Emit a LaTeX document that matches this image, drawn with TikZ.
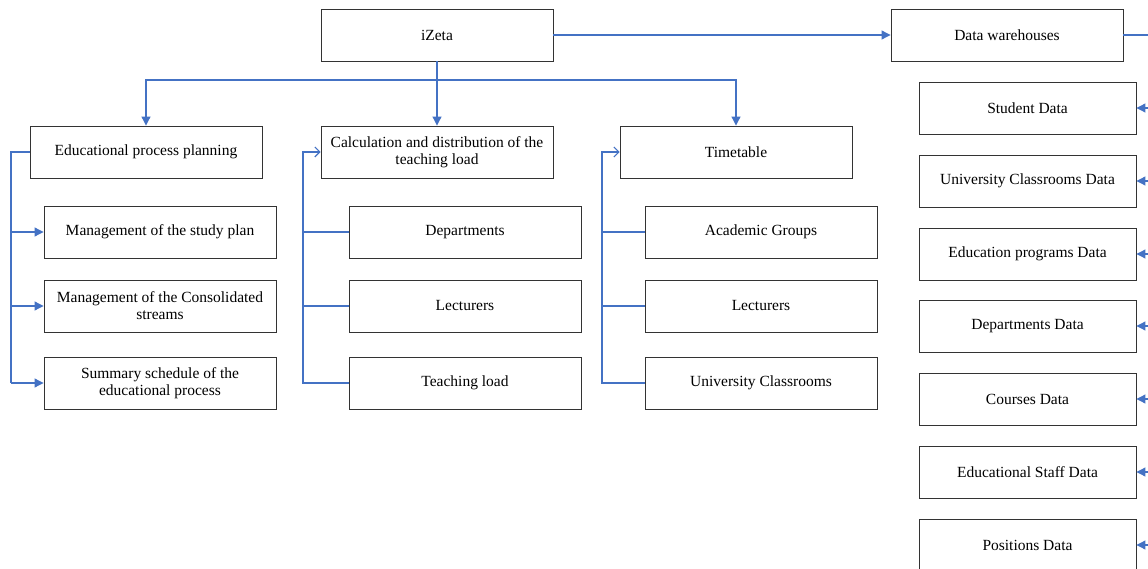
\documentclass[tikz,border=0pt]{standalone}
\usepackage{fontspec}
\setmainfont{Liberation Serif}
\usetikzlibrary{arrows.meta}
\definecolor{myblue}{HTML}{4472C4}
\begin{document}
\begin{tikzpicture}[x=1pt,y=-1pt,
 box/.style={draw=black!80, line width=0.9pt, rectangle, minimum width=232pt, minimum height=52pt, inner sep=0pt, align=center, font=\fontsize{15.5}{17}\selectfont},
 dbox/.style={box, minimum width=217pt},
 conn/.style={draw=myblue, line width=1.1pt},
 farr/.style={conn, -{Triangle[length=9pt,width=9pt]}},
 oarr/.style={conn, -{Straight Barb[length=5pt,width=10pt]}}]
\useasboundingbox (0,0) rectangle (1148,569);
% top
\node[box] (izeta) at (437,35) {iZeta};
\node[box] (dw) at (1007,35) {Data warehouses};
% level 2
\node[box] (epp) at (146,152) {Educational process planning};
\node[box] (calc) at (437,152) {Calculation and distribution of the\\teaching load};
\node[box] (tt) at (736,152) {Timetable};
% left children
\node[box] (s1) at (160,232) {Management of the study plan};
\node[box] (s2) at (160,306) {Management of the Consolidated\\streams};
\node[box] (s3) at (160,383) {Summary schedule of the\\educational process};
% middle children
\node[box] (c1) at (465,232) {Departments};
\node[box] (c2) at (465,306) {Lecturers};
\node[box] (c3) at (465,383) {Teaching load};
% right children
\node[box] (t1) at (761,232) {Academic Groups};
\node[box] (t2) at (761,306) {Lecturers};
\node[box] (t3) at (761,383) {University Classrooms};
% data
\node[dbox] (d1) at (1027.5,108) {Student Data};
\node[dbox] (d2) at (1027.5,181) {University Classrooms Data};
\node[dbox] (d3) at (1027.5,254) {Education programs Data};
\node[dbox] (d4) at (1027.5,326) {Departments Data};
\node[dbox] (d5) at (1027.5,399) {Courses Data};
\node[dbox] (d6) at (1027.5,472) {Educational Staff Data};
\node[dbox] (d7) at (1027.5,545) {Positions Data};
% rails
\coordinate (split) at (437,80);
\coordinate (lrail) at (11,152);
\coordinate (mrail) at (303,152);
\coordinate (trail) at (602,152);
\coordinate (rtop) at (1152,35);
\coordinate (rbot) at (1152,575);
% connectors from top
\draw[conn] (izeta.south) -- (split);
\draw[farr] (split) -| (epp.north);
\draw[farr] (split) -- (calc.north);
\draw[farr] (split) -| (tt.north);
\draw[farr] (izeta.east) -- (dw.west);
% right rail
\draw[conn] (dw.east) -- (rtop) -- (rbot);
\foreach \d in {d1,d2,d3,d4,d5,d6,d7}
  \draw[farr] (\d.east -| rtop) -- (\d.east);
% left column
\draw[conn] (epp.west) -- (lrail) -- (s3.west -| lrail);
\foreach \s in {s1,s2,s3}
  \draw[farr] (\s.west -| lrail) -- (\s.west);
% middle column
\draw[oarr] (c3.west) -- (c3.west -| mrail) -- (mrail) -- (calc.west);
\draw[conn] (c1.west) -- (c1.west -| mrail);
\draw[conn] (c2.west) -- (c2.west -| mrail);
% timetable column
\draw[oarr] (t3.west) -- (t3.west -| trail) -- (trail) -- (tt.west);
\draw[conn] (t1.west) -- (t1.west -| trail);
\draw[conn] (t2.west) -- (t2.west -| trail);
\end{tikzpicture}
\end{document}
